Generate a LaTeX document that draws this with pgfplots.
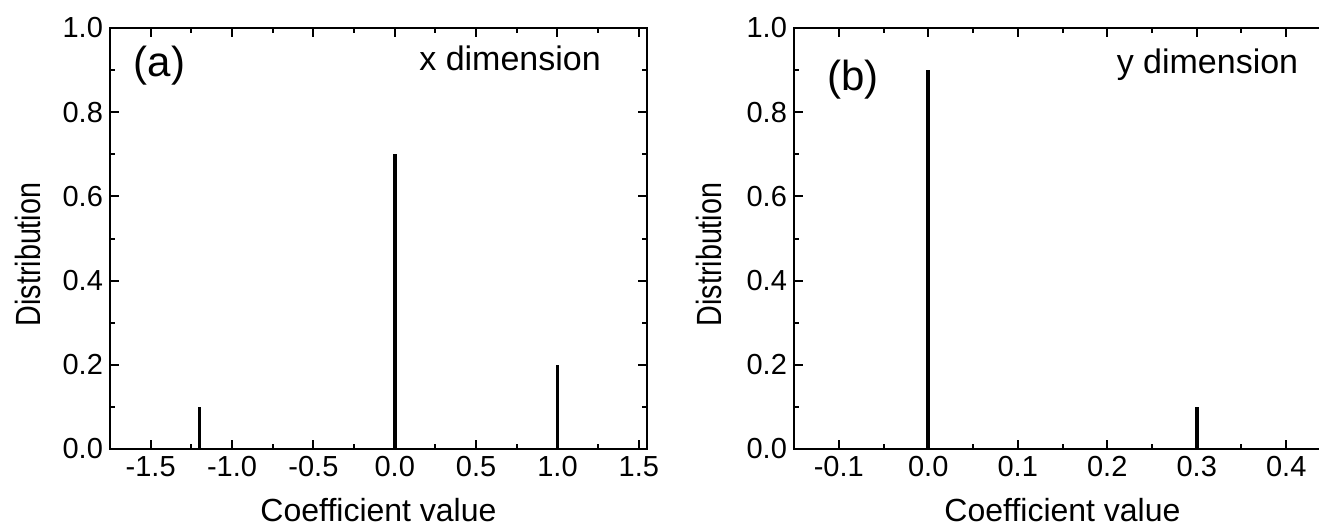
\documentclass[border=0pt]{standalone}
\usepackage{fontspec}
\setmainfont{Liberation Sans}
\newfontfamily\ylabfont{Liberation Sans}[FakeStretch=0.82]
\usepackage{pgfplots}
\pgfplotsset{compat=1.18}

\pgfplotsset{
  coefpanel/.style={
    scale only axis,
    width=268.5pt, height=210.5pt,
    ymin=0, ymax=1,
    ytick={0,0.2,...,1.0},
    minor y tick num=1,
    tick align=inside,
    xtick pos=both, ytick pos=both,
    major tick length=4.5pt, minor tick length=2.5pt,
    axis line style={line width=1pt},
    every tick/.style={black, line width=1pt},
    tick label style={font=\fontsize{14.5}{17}\selectfont},
    /pgf/number format/assume math mode=true,
    xticklabel style={/pgf/number format/.cd, fixed, fixed zerofill, precision=1},
    yticklabel style={/pgf/number format/.cd, fixed, fixed zerofill, precision=1},
    xlabel={Coefficient value},
    ylabel={Distribution},
    every axis x label/.style={at={(rel axis cs:0.5,-0.145)}, anchor=center,
      font=\fontsize{16}{19}\selectfont},
    clip=false,
  },
  ylab/.style={every axis y label/.style={at={(rel axis cs:#1,0.462)}, anchor=center,
      rotate=90, font=\ylabfont\fontsize{17.5}{20}\selectfont}},
  stem/.style={black, line width=1.8pt, ycomb, mark=none},
}

\begin{document}
\begin{tikzpicture}
% (a) x dimension
\begin{axis}[coefpanel, ylab=-0.153,
  xmin=-1.75, xmax=1.55,
  xtick={-1.5,-1.0,...,1.5},
  minor x tick num=1,
]
\addplot[stem] coordinates {(-1.2,0.1) (0,0.7) (1.0,0.2)};
\node[font=\fontsize{21}{25}\selectfont, anchor=base] at (rel axis cs:0.092,0.884) {(a)};
\node[font=\fontsize{17}{20}\selectfont, anchor=base] at (rel axis cs:0.745,0.898) {x dimension};
\end{axis}

% (b) y dimension
\begin{axis}[coefpanel, ylab=-0.159, xshift=342pt,
  xmin=-0.15, xmax=0.45,
  xtick={-0.1,0,...,0.4},
  minor x tick num=1,
]
\addplot[stem] coordinates {(0,0.9) (0.3,0.1)};
\node[font=\fontsize{21}{25}\selectfont, anchor=base] at (rel axis cs:0.110,0.851) {(b)};
\node[font=\fontsize{17}{20}\selectfont, anchor=base] at (rel axis cs:0.770,0.893) {y dimension};
\end{axis}

\pgfresetboundingbox
\useasboundingbox (-55pt,-38.5pt) rectangle (604.5pt,224.5pt);
\end{tikzpicture}
\end{document}
